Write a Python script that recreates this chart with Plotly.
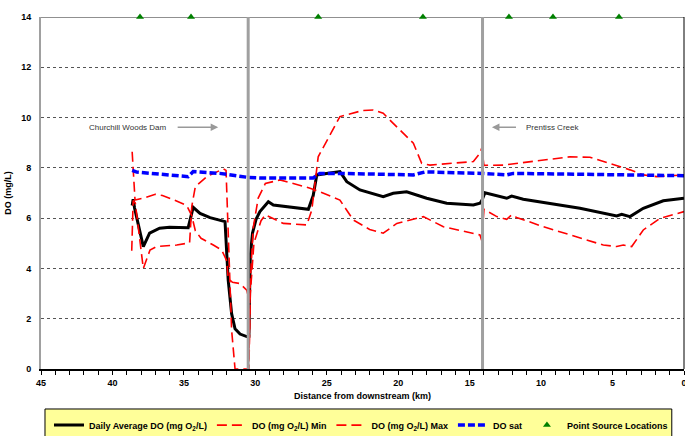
import plotly.graph_objects as go

# ---- data ----
avg_km = [38.62, 38.55, 38.45, 37.84, 37.4, 36.7, 36.0, 34.7, 34.35, 33.87, 33.17, 32.12, 31.9, 31.66,
          31.42, 31.07, 30.6, 30.45, 30.4, 30.35, 30.2, 29.95, 29.68, 29.09, 28.74, 26.29, 25.95, 25.7,
          24.08, 23.6, 22.68, 21.05, 20.35, 19.41, 18.01, 16.61, 14.74, 14.28, 14.15, 13.93, 12.41,
          12.06, 11.25, 9.61, 7.28, 4.71, 4.36, 3.78, 2.85, 1.45, 0.0]
avg_do = [6.5, 6.75, 6.4, 4.87, 5.4, 5.6, 5.64, 5.62, 6.43, 6.19, 6.02, 5.86, 3.54, 2.2,
          1.6, 1.39, 1.29, 1.3, 3.1, 4.5, 5.4, 5.95, 6.26, 6.65, 6.52, 6.35, 6.9, 7.72,
          7.85, 7.45, 7.12, 6.85, 6.99, 7.05, 6.79, 6.59, 6.52, 6.59, 6.7, 7.01, 6.79,
          6.88, 6.75, 6.59, 6.39, 6.09, 6.15, 6.06, 6.39, 6.69, 6.79]

min_km = [38.62, 38.55, 38.42, 37.8, 37.0, 36.5, 35.8, 34.8, 34.45, 34.2, 33.8, 32.94, 32.35, 32.0,
          31.9, 31.6, 31.1, 30.6, 30.5, 30.45, 30.35, 30.15, 29.8, 29.3, 28.27, 26.17, 25.48, 24.08,
          23.15, 22.0, 21.05, 20.1, 18.24, 16.84, 14.74, 14.28, 14.15, 14.0, 13.1, 12.41, 12.06,
          11.72, 9.84, 7.51, 5.65, 4.71, 4.25, 3.66, 2.85, 1.68, 0.0]
min_do = [8.64, 7.8, 6.72, 6.8, 6.95, 6.9, 6.75, 6.5, 6.1, 5.5, 5.2, 4.93, 4.73, 4.3,
          3.6, 3.45, 3.4, 3.14, 2.9, 0.3, 3.5, 5.6, 6.8, 7.38, 7.52, 7.19, 7.05, 6.72,
          5.93, 5.55, 5.4, 5.79, 6.06, 5.66, 5.4, 5.33, 5.1, 6.35, 6.06, 5.95, 6.13,
          6.03, 5.66, 5.26, 4.93, 4.87, 4.93, 4.87, 5.53, 5.99, 6.26]

max_km = [38.65, 38.55, 38.4, 37.84, 37.37, 36.9, 35.5, 34.6, 34.45, 34.2, 33.4, 32.24, 32.05, 31.9,
          31.66, 31.42, 30.45, 30.35, 30.1, 29.6, 29.3, 28.04, 26.4, 26.05, 25.6, 24.08, 22.5, 21.75,
          21.05, 20.35, 18.94, 18.36, 17.78, 14.74, 14.28, 14.15, 14.0, 12.65, 10.78, 7.98, 6.58,
          5.18, 3.78, 2.85, 1.92, 0.0]
max_do = [4.7, 6.7, 6.6, 4.0, 4.73, 4.87, 4.93, 5.02, 6.46, 7.25, 7.65, 7.96, 7.9, 5.5,
          1.55, 0.0, 0.0, 3.0, 5.0, 5.9, 6.13, 5.79, 5.73, 6.32, 8.44, 10.04, 10.28, 10.3,
          10.17, 9.77, 8.98, 8.18, 8.11, 8.25, 8.58, 8.8, 8.1, 8.11, 8.25, 8.44, 8.42,
          8.18, 7.92, 7.72, 7.65, 7.72]

sat_km = [38.62, 38.3, 34.7, 34.35, 32.5, 30.5, 29.7, 25.95, 25.48, 24.1, 18.94, 18.1, 14.1, 12.4,
          11.95, 3.3, 0.0]
sat_do = [7.9, 7.83, 7.65, 7.85, 7.78, 7.62, 7.6, 7.6, 7.78, 7.78, 7.72, 7.84, 7.78, 7.72,
          7.78, 7.72, 7.69]

ps_km = [38.07, 34.5, 25.6, 18.27, 12.25, 9.17, 4.55]
ps_do = [14, 14, 14, 14, 14, 14, 14]

dam_km = 30.5
creek_km = 14.1

FONT = "Arial, Liberation Sans, sans-serif"

fig = go.Figure()
fig.add_trace(go.Scatter(x=avg_km, y=avg_do, mode="lines", name="Daily Average DO (mg O<sub>2</sub>/L)",
                         line=dict(color="black", width=3)))
fig.add_trace(go.Scatter(x=min_km, y=min_do, mode="lines", name="DO (mg O<sub>2</sub>/L) Min",
                         line=dict(color="#FF0000", width=1.6, dash="10px,5px")))
fig.add_trace(go.Scatter(x=max_km, y=max_do, mode="lines", name="DO (mg O<sub>2</sub>/L) Max",
                         line=dict(color="#FF0000", width=1.6, dash="10px,5px")))
fig.add_trace(go.Scatter(x=sat_km, y=sat_do, mode="lines", name="DO sat",
                         line=dict(color="#0000FF", width=3.5, dash="7px,3px")))
fig.add_trace(go.Scatter(x=ps_km, y=ps_do, mode="markers", name="Point Source Locations",
                         marker=dict(symbol="triangle-up", color="#008000", size=7), cliponaxis=False))

shapes = [
    dict(type="line", xref="x", yref="y", x0=dam_km, x1=dam_km, y0=0, y1=14,
         line=dict(color="#A0A0A0", width=3), layer="above"),
    dict(type="line", xref="x", yref="y", x0=creek_km, x1=creek_km, y0=0, y1=14,
         line=dict(color="#A0A0A0", width=3), layer="above"),
    dict(type="line", xref="paper", yref="y", x0=0, x1=1, y0=14, y1=14,
         line=dict(color="#909090", width=2), layer="below"),
    dict(type="line", xref="paper", yref="paper", x0=1, x1=1, y0=0, y1=1,
         line=dict(color="black", width=1)),
    dict(type="rect", xref="paper", yref="paper", x0=0.0062, x1=0.981, y0=-0.21, y1=-0.1136,
         fillcolor="#FFFF99", line=dict(color="black", width=1), layer="below"),
]

annotations = [
    dict(x=32.6, y=9.62, ax=38.9, ay=9.62, xref="x", yref="y", axref="x", ayref="y",
         text="Churchill Woods Dam", showarrow=True, arrowhead=2, arrowsize=1, arrowwidth=1.5,
         arrowcolor="#999999", startstandoff=9,
         font=dict(family=FONT, size=8, color="#333333")),
    dict(x=13.44, y=9.62, ax=9.17, ay=9.62, xref="x", yref="y", axref="x", ayref="y",
         text="Prentiss Creek", showarrow=True, arrowhead=2, arrowsize=1, arrowwidth=1.5,
         arrowcolor="#999999", startstandoff=9,
         font=dict(family=FONT, size=8, color="#333333")),
]

fig.update_layout(
    width=685, height=436,
    margin=dict(l=41, r=1, t=17, b=67, autoexpand=False),
    paper_bgcolor="white", plot_bgcolor="white",
    font=dict(family=FONT, size=9, color="black"),
    shapes=shapes, annotations=annotations,
    showlegend=True,
    legend=dict(orientation="h", xref="container", yref="container",
                x=0.527, xanchor="center", y=0.025, yanchor="middle",
                bgcolor="rgba(0,0,0,0)", font=dict(family=FONT, size=9, color="black", weight="bold"),
                itemwidth=30, tracegroupgap=0),
)
fig.update_xaxes(range=[45, 0], dtick=5, showgrid=False, zeroline=False,
                 showline=True, linecolor="black", linewidth=2,
                 ticks="outside", ticklen=4, tickcolor="black", ticklabeloverflow="allow",
                 minor=dict(dtick=1, ticks="outside", ticklen=4, tickcolor="black"),
                 tickfont=dict(family=FONT, size=9, weight="bold"),
                 title=dict(text="Distance from downstream (km)", standoff=6,
                            font=dict(family=FONT, size=9, weight="bold")))
fig.update_yaxes(range=[0, 14], dtick=2, showgrid=True, gridcolor="#555555", griddash="dot",
                 gridwidth=1, zeroline=False, showline=True, linecolor="#A0A0A0", linewidth=2,
                 ticks="", ticklabelstandoff=6,
                 tickfont=dict(family=FONT, size=9, weight="bold"),
                 title=dict(text="DO (mg/L)", standoff=8, font=dict(family=FONT, size=9, weight="bold")))

fig.write_html("out.html")
